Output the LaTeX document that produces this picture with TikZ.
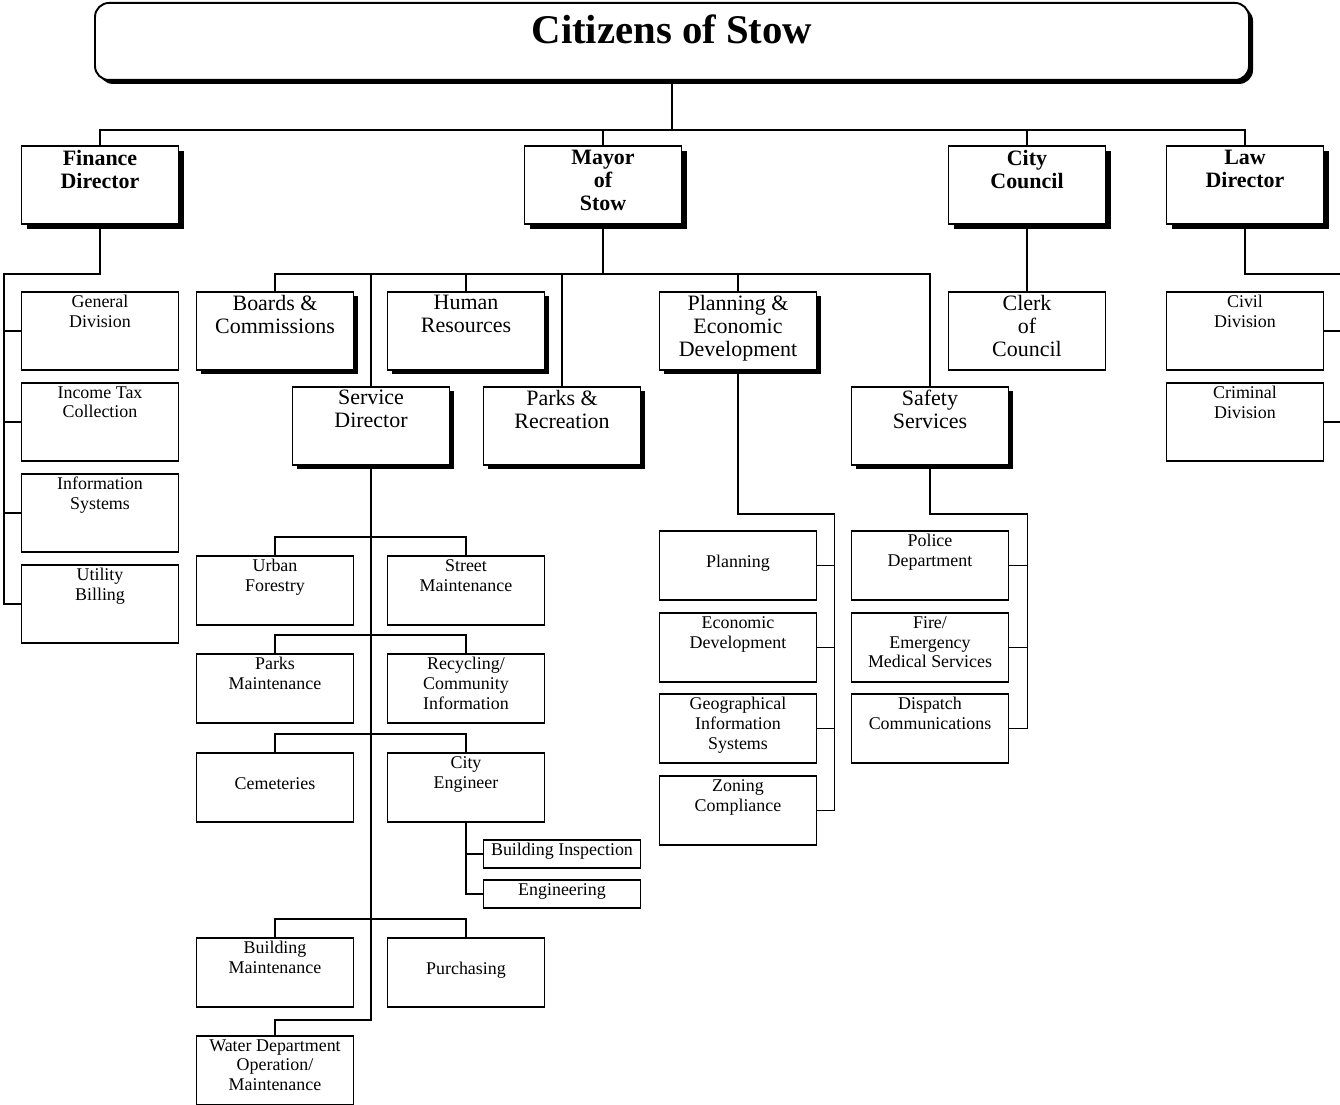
\documentclass[tikz,border=0pt]{standalone}
\usepackage{fontspec}
\setmainfont{Liberation Serif}
\usetikzlibrary{shadows}
\newdimen\pu \pu=0.02cm
\newcommand\smalltxt{\fontsize{10.2}{11.3}\selectfont}
\newcommand\bigtxt{\fontsize{12.5}{13}\selectfont}
\newcommand\headtxt{\fontsize{12.5}{13}\selectfont\bfseries}
\newcommand\titletxt{\fontsize{23.2}{26}\selectfont\bfseries}
\tikzset{
  conn/.style={line width=1.1pt},
  unit/.style={draw, line width=1.1pt, fill=white, anchor=north, inner sep=0pt, minimum width=157\pu, minimum height=69\pu},
  tall/.style={minimum height=78\pu},
  flat/.style={minimum height=28\pu},
  shade/.style={drop shadow={shadow xshift=#1, shadow yshift=-#1, fill=black, opacity=1}},
  lsmall/.style={align=center, inner sep=0pt, font=\smalltxt, anchor=north, yshift=-4\pu},
  lmid/.style={lsmall, yshift=-21\pu},
  lbig/.style={align=center, inner sep=0pt, font=\bigtxt, anchor=north, yshift=-4\pu},
  lhead/.style={align=center, inner sep=0pt, font=\headtxt, anchor=north, yshift=-5\pu},
  ltitle/.style={inner sep=0pt, font=\titletxt, anchor=north, yshift=-12\pu}
}
\begin{document}
\begin{tikzpicture}[x=0.02cm, y=-0.02cm]
  \useasboundingbox (0,0) rectangle (1340,1105);
  \node[draw, line width=1.1pt, fill=white, rounded corners=14\pu, anchor=north, minimum width=1154\pu, minimum height=77\pu, shade=4\pu, label={[ltitle]north:Citizens of Stow}] (cit) at (672,2) {};

  \node[unit, tall, shade=5\pu, label={[lhead]north:Finance\\Director}] (fin) at (100,145) {};
  \node[unit, tall, shade=5\pu, label={[lhead]north:Mayor\\of\\Stow}] (mayor) at (603,145) {};
  \node[unit, tall, shade=5\pu, label={[lhead]north:City\\Council}] (cc) at (1027,145) {};
  \node[unit, tall, shade=5\pu, label={[lhead]north:Law\\Director}] (law) at (1245,145) {};

  \node[unit, tall, label={[lsmall]north:General\\Division}] (gen) at (100,291) {};
  \node[unit, tall, label={[lsmall]north:Income Tax\\Collection}] (itc) at (100,382) {};
  \node[unit, tall, label={[lsmall]north:Information\\Systems}] (isys) at (100,473) {};
  \node[unit, tall, label={[lsmall]north:Utility\\Billing}] (util) at (100,564) {};

  \node[unit, tall, shade=4\pu, label={[lbig]north:Boards \&\\Commissions}] (boards) at (275,291) {};
  \node[unit, tall, shade=4\pu, label={[lbig]north:Human\\Resources}] (hr) at (466,291) {};
  \node[unit, tall, shade=4\pu, label={[lbig]north:Service\\Director}] (serv) at (371,386) {};
  \node[unit, tall, shade=4\pu, label={[lbig]north:Parks \&\\Recreation}] (parks) at (562,386) {};
  \node[unit, tall, shade=4\pu, label={[lbig]north:Planning \&\\Economic\\Development}] (ped) at (738,291) {};
  \node[unit, tall, shade=4\pu, label={[lbig]north:Safety\\Services}] (safety) at (930,386) {};

  \node[unit, tall, label={[lbig]north:Clerk\\of\\Council}] (clerk) at (1027,291) {};
  \node[unit, tall, label={[lsmall]north:Civil\\Division}] (civil) at (1245,291) {};
  \node[unit, tall, label={[lsmall]north:Criminal\\Division}] (crim) at (1245,382) {};

  \node[unit, label={[lsmall]north:Urban\\Forestry}] (urban) at (275,555) {};
  \node[unit, label={[lsmall]north:Street\\Maintenance}] (street) at (466,555) {};
  \node[unit, label={[lsmall]north:Parks\\Maintenance}] (pmaint) at (275,653) {};
  \node[unit, label={[lsmall]north:Recycling/\\Community\\Information}] (recyc) at (466,653) {};
  \node[unit, label={[lmid]north:Cemeteries}] (cem) at (275,752) {};
  \node[unit, label={[lsmall]north:City\\Engineer}] (ce) at (466,752) {};
  \node[unit, flat, label={[lsmall]north:Building Inspection}] (binsp) at (562,839) {};
  \node[unit, flat, label={[lsmall]north:Engineering}] (eng) at (562,879) {};
  \node[unit, label={[lsmall]north:Building\\Maintenance}] (bmaint) at (275,937) {};
  \node[unit, label={[lmid]north:Purchasing}] (purch) at (466,937) {};
  \node[unit, label={[lsmall]north:Water Department\\Operation/\\Maintenance}] (water) at (275,1035) {};

  \node[unit, label={[lmid]north:Planning}] (plan) at (738,530) {};
  \node[unit, label={[lsmall]north:Economic\\Development}] (econ) at (738,612) {};
  \node[unit, label={[lsmall]north:Geographical\\Information\\Systems}] (gis) at (738,693) {};
  \node[unit, label={[lsmall]north:Zoning\\Compliance}] (zon) at (738,775) {};

  \node[unit, label={[lsmall]north:Police\\Department}] (police) at (930,530) {};
  \node[unit, label={[lsmall]north:Fire/\\Emergency\\Medical Services}] (fire) at (930,612) {};
  \node[unit, label={[lsmall]north:Dispatch\\Communications}] (disp) at (930,693) {};

  \draw[conn] (cit.south) -- ++(0,49) coordinate (tbus);
  \draw[conn] (fin.north) |- (tbus) -| (law.north);
  \foreach \n in {mayor,cc} \draw[conn] (\n.north) -- (\n.north |- tbus);

  \draw[conn] (fin.south) -- ++(0,49) -| ([xshift=-17\pu]util.west) -- (util.west);
  \foreach \n in {gen,itc,isys} \draw[conn] (\n.west) -- ++(-17,0);

  \draw[conn] (mayor.south) -- ++(0,49) coordinate (mbus);
  \draw[conn] (boards.north) |- (mbus) -| (safety.north);
  \foreach \n in {hr,serv,parks,ped} \draw[conn] (\n.north) -- (\n.north |- mbus);

  \draw[conn] (cc.south) -- (clerk.north);
  \draw[conn] (law.south) -- ++(0,49) -| ([xshift=19\pu]crim.east) -- (crim.east);
  \draw[conn] (civil.east) -- ++(19,0);

  \draw[conn] (serv.south) -- ++(0,554) -| (water.north);
  \foreach \l/\r in {urban/street,pmaint/recyc,cem/ce,bmaint/purch}
    \draw[conn] (\l.north) -- ++(0,-18) -| (\r.north);
  \draw[conn] (ce.south) |- (eng.west);
  \draw[conn] (binsp.west) -- (binsp.west -| ce.south);

  \draw[conn] (ped.south) -- ++(0,143) -| ([xshift=17\pu]zon.east) -- (zon.east);
  \foreach \n in {plan,econ,gis} \draw[conn] (\n.east) -- ++(17,0);
  \draw[conn] (safety.south) -- ++(0,48) -| ([xshift=18\pu]disp.east) -- (disp.east);
  \foreach \n in {police,fire} \draw[conn] (\n.east) -- ++(18,0);
\end{tikzpicture}
\end{document}
